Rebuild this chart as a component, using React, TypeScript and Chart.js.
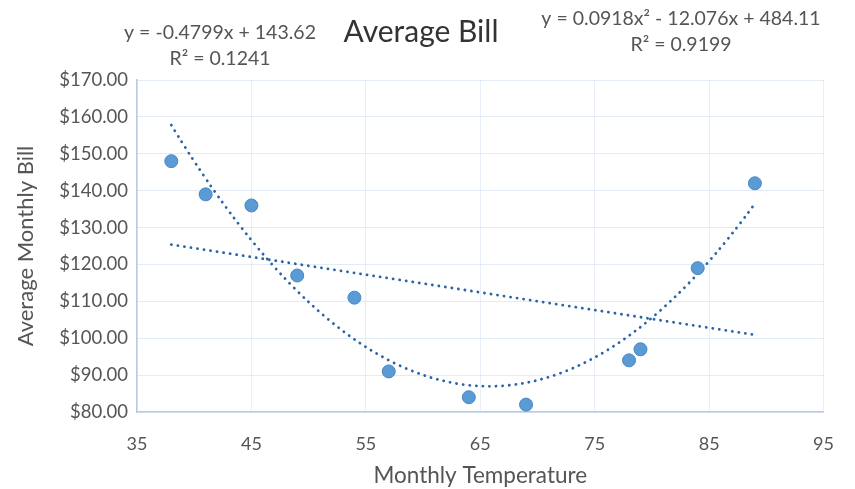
import React, { useEffect, useRef } from "react";
import { Chart, registerables } from "chart.js";
Chart.register(...registerables);

const temperatures = [38, 41, 45, 49, 54, 57, 64, 69, 78, 79, 84, 89];
const bills = [148, 139, 136, 117, 111, 91, 84, 82, 94, 97, 119, 142];
const yTicks = [80, 90, 100, 110, 120, 130, 140, 150, 160, 170];
const xTicks = [35, 45, 55, 65, 75, 85, 95];
const linearCoef = [143.62, -0.4799];
const quadCoef = [484.11, -12.076, 0.0918];
const linearLabel = ["y = -0.4799x + 143.62", "R² = 0.1241"];
const quadLabel = ["y = 0.0918x² - 12.076x + 484.11", "R² = 0.9199"];
const titleText = "Average Bill";

const FONT = "Lato, 'Open Sans', sans-serif";

export default function App() {
  const ref = useRef<HTMLCanvasElement>(null);
  useEffect(() => {
    const xMin = Math.min(...temperatures);
    const xMax = Math.max(...temperatures);
    const linPts: { x: number; y: number }[] = [];
    const quadPts: { x: number; y: number }[] = [];
    for (let x = xMin; x <= xMax + 1e-9; x += 0.5) {
      linPts.push({ x, y: linearCoef[0] + linearCoef[1] * x });
      quadPts.push({ x, y: quadCoef[0] + quadCoef[1] * x + quadCoef[2] * x * x });
    }
    const annot = {
      id: "annot",
      afterDraw(chart: any) {
        const ctx = chart.ctx;
        ctx.save();
        ctx.fillStyle = "#333";
        ctx.textAlign = "center";
        ctx.textBaseline = "middle";
        ctx.font = `30px ${FONT}`;
        ctx.fillText(titleText, 421, 32);
        ctx.fillStyle = "#555";
        ctx.font = `19.5px ${FONT}`;
        ctx.fillText(linearLabel[0], 220, 33);
        ctx.fillText(linearLabel[1], 220, 59);
        ctx.font = `19.5px ${FONT}`;
        ctx.fillText(quadLabel[0], 681, 19);
        ctx.fillText(quadLabel[1], 681, 45);
        ctx.restore();
      },
    };
    const chart = new Chart(ref.current!, {
      type: "scatter",
      data: {
        datasets: [
          {
            label: "Bill",
            data: temperatures.map((t, i) => ({ x: t, y: bills[i] })),
            backgroundColor: "#5b9bd5",
            borderColor: "#4a86c0",
            borderWidth: 1,
            pointRadius: 6.5,
            order: 1,
          },
          {
            label: "Linear",
            type: "line",
            data: linPts,
            borderColor: "#2a64a6",
            borderWidth: 2.8,
            borderDash: [0.1, 6.5],
            borderCapStyle: "round",
            pointRadius: 0,
            fill: false,
            order: 2,
          },
          {
            label: "Poly",
            type: "line",
            data: quadPts,
            borderColor: "#2a64a6",
            borderWidth: 2.8,
            borderDash: [0.1, 6.5],
            borderCapStyle: "round",
            pointRadius: 0,
            tension: 0.4,
            fill: false,
            order: 2,
          },
        ],
      },
      options: {
        animation: false,
        responsive: false,
        layout: { padding: { top: 80, right: 29, left: 0, bottom: 0 } },
        plugins: { legend: { display: false }, tooltip: { enabled: false } },
        scales: {
          x: {
            type: "linear",
            min: 35,
            max: 95,
            afterBuildTicks: (s: any) => { s.ticks = xTicks.map((v) => ({ value: v })); },
            afterFit: (s: any) => { s.height = 77; },
            grid: { color: "rgba(190,210,235,0.35)", drawTicks: false },
            border: { color: "#b8cbe4", width: 1.5 },
            ticks: { color: "#555", font: { family: FONT, size: 18 }, padding: 21 },
            title: { display: true, text: "Monthly Temperature", color: "#555", font: { family: FONT, size: 22.5 }, padding: { top: 0, bottom: 0 } },
          },
          y: {
            type: "linear",
            min: 80,
            max: 170,
            afterBuildTicks: (s: any) => { s.ticks = yTicks.map((v) => ({ value: v })); },
            afterFit: (s: any) => { s.width = 137; },
            grid: { color: "rgba(190,210,235,0.45)", drawTicks: false },
            border: { color: "#b8cbe4", width: 1.5 },
            ticks: {
              color: "#555",
              font: { family: FONT, size: 18.5 },
              padding: 9,
              callback: (v: any) => "$" + Number(v).toFixed(2),
            },
            title: { display: true, text: "Average Monthly Bill", color: "#555", font: { family: FONT, size: 22 }, padding: { top: 13, bottom: 0 } },
          },
        },
      },
      plugins: [annot],
    } as any);
    return () => chart.destroy();
  }, []);
  return (
    <div style={{ position: "fixed", left: 0, top: 0, width: 855, height: 489, background: "#fff" }}>
      <canvas ref={ref} width={855} height={489} />
    </div>
  );
}
